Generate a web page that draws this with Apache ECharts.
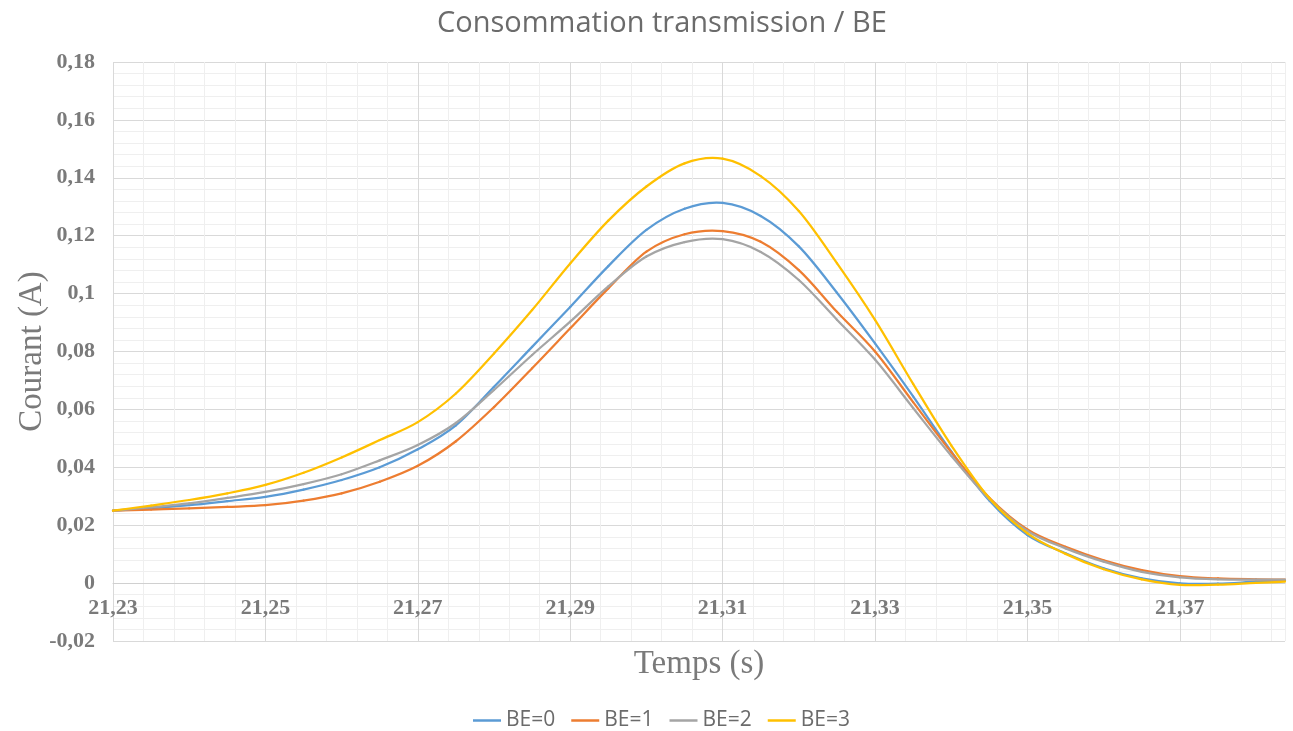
<!DOCTYPE html>
<html>
<head>
<meta charset="utf-8">
<script src="https://cdn.jsdelivr.net/npm/echarts@6/dist/echarts.min.js"></script>
<style>
html,body{margin:0;padding:0;background:#fff;}
#chart{width:1293px;height:731px;}
</style>
</head>
<body>
<div id="chart"></div>
<script>
// Time samples (s)
const times = [21.23, 21.235, 21.24, 21.245, 21.25, 21.255, 21.26, 21.265, 21.27, 21.275,
  21.28, 21.285, 21.29, 21.295, 21.30, 21.305, 21.31, 21.315, 21.32, 21.325,
  21.33, 21.335, 21.34, 21.345, 21.35, 21.355, 21.36, 21.365, 21.37, 21.375, 21.38, 21.3838];
// Current (A)
const be0 = [0.025, 0.0259, 0.0269, 0.0283, 0.0298, 0.0323, 0.0356, 0.0400, 0.0462, 0.0545,
  0.0678, 0.0816, 0.0954, 0.1095, 0.1220, 0.1293, 0.1313, 0.1268, 0.1163, 0.1003,
  0.0828, 0.0645, 0.0455, 0.0285, 0.0166, 0.0103, 0.0051, 0.0016, -0.0001, -0.0002, 0.0005, 0.0009];
const be1 = [0.025, 0.0254, 0.0258, 0.0263, 0.0269, 0.0285, 0.0310, 0.0350, 0.0405, 0.0490,
  0.0608, 0.0742, 0.0880, 0.1018, 0.1145, 0.1205, 0.1216, 0.1179, 0.1081, 0.0937,
  0.0800, 0.0625, 0.0452, 0.0295, 0.0185, 0.0125, 0.0079, 0.0045, 0.0024, 0.0016, 0.0013, 0.0012];
const be2 = [0.025, 0.0262, 0.0275, 0.0294, 0.0315, 0.0342, 0.0376, 0.0424, 0.0477, 0.0553,
  0.0667, 0.0788, 0.0903, 0.1025, 0.1128, 0.1178, 0.1188, 0.1144, 0.1047, 0.0910,
  0.0772, 0.0605, 0.0440, 0.0290, 0.0180, 0.0120, 0.0074, 0.0039, 0.0020, 0.0013, 0.0012, 0.0012];
const be3 = [0.025, 0.0268, 0.0287, 0.0310, 0.0339, 0.0381, 0.0434, 0.0494, 0.0556, 0.0655,
  0.0793, 0.0943, 0.1104, 0.1252, 0.1370, 0.1450, 0.1466, 0.1406, 0.1285, 0.1105,
  0.0909, 0.0688, 0.0476, 0.0293, 0.0172, 0.0101, 0.0048, 0.0013, -0.0006, -0.0005, 0.0001, 0.0005];
const seriesNames = ['BE=0', 'BE=1', 'BE=2', 'BE=3'];
const colors = ['#5B9BD5', '#ED7D31', '#A5A5A5', '#FFC000'];

const X0 = 21.23;     // axis origin (s)
const XMAX = 21.3838; // right edge of the plot (s)
const YMIN = -0.02, YMAX = 0.18, YSTEP = 0.02;
const toMs = t => Math.round((t - X0) * 100000) / 100; // offset in ms

const GRID = { left: 113, right: 8, top: 62, bottom: 90 };
const plotH = 731 - GRID.top - GRID.bottom;
const zeroOffset = -plotH * (0 - YMIN) / (YMAX - YMIN); // x axis drawn at y = 0

const allSeries = [be0, be1, be2, be3];
const chart = echarts.init(document.getElementById('chart'));
const labelColor = '#7a7a7a';
const majorGrid = '#d9d9d9';
const minorGrid = '#efefef';

// Smooth curve (cubic Hermite / Catmull-Rom, parametrised by x) through the
// data points, placed with the chart's own coordinate system (api.coord).
function makeRenderItem(vals, color) {
  return function (params, api) {
    if (params.dataIndex !== 0) return null;
    const xs = times.map(toMs);
    const P = xs.map((x, j) => api.coord([x, vals[j]]));
    const n = P.length;
    const tan = P.map((p, j) => {
      const a = j === 0 ? 0 : j - 1;
      const b = j === n - 1 ? n - 1 : j + 1;
      const dt = xs[b] - xs[a];
      return [(P[b][0] - P[a][0]) / dt, (P[b][1] - P[a][1]) / dt];
    });
    const children = [];
    for (let j = 0; j < n - 1; j++) {
      const h = (xs[j + 1] - xs[j]) / 3;
      children.push({
        type: 'bezierCurve',
        shape: {
          x1: P[j][0], y1: P[j][1],
          cpx1: P[j][0] + tan[j][0] * h, cpy1: P[j][1] + tan[j][1] * h,
          cpx2: P[j + 1][0] - tan[j + 1][0] * h, cpy2: P[j + 1][1] - tan[j + 1][1] * h,
          x2: P[j + 1][0], y2: P[j + 1][1]
        },
        style: { stroke: color, fill: null, lineWidth: 2.25, lineCap: 'round' },
        silent: true
      });
    }
    return { type: 'group', children: children };
  };
}

chart.setOption({
  animation: false,
  color: colors,
  title: {
    text: 'Consommation transmission / BE',
    left: 432,
    top: 4,
    textStyle: { fontFamily: 'Open Sans', fontSize: 29, fontWeight: 'normal', color: '#6b6b6b' }
  },
  legend: {
    data: seriesNames,
    top: 705,
    left: 468,
    icon: 'rect',
    itemWidth: 28,
    itemHeight: 2.5,
    itemGap: 16,
    textStyle: { fontFamily: 'Open Sans', fontSize: 21, color: '#6b6b6b' }
  },
  grid: Object.assign({ containLabel: false, outerBoundsMode: 'none' }, GRID),
  xAxis: {
    type: 'value',
    min: 0,
    max: toMs(XMAX),
    interval: 4,
    offset: zeroOffset,
    name: 'Temps (s)',
    nameLocation: 'middle',
    nameGap: 65,
    nameMoveOverlap: false,
    nameTextStyle: { fontFamily: 'Liberation Serif', fontSize: 33, color: labelColor },
    axisLine: { show: true, onZero: false, lineStyle: { color: '#d0d0d0', width: 1 } },
    axisTick: { show: false },
    axisLabel: {
      margin: 14,
      fontFamily: 'Liberation Serif', fontWeight: 'bold', fontSize: 22, color: labelColor,
      showMaxLabel: false,
      formatter: v => {
        const k = Math.round(v);
        if (Math.abs(v - k) > 1e-6 || k % 20 !== 0) return '';
        return (X0 + k / 1000).toFixed(2).replace('.', ',');
      }
    },
    splitLine: { show: true, lineStyle: { color: [majorGrid, minorGrid, minorGrid, minorGrid, minorGrid], width: 1 } }
  },
  yAxis: {
    type: 'value',
    min: YMIN,
    max: YMAX,
    interval: YSTEP,
    name: 'Courant (A)',
    nameLocation: 'middle',
    nameGap: 64,
    nameMoveOverlap: false,
    nameTextStyle: { fontFamily: 'Liberation Serif', fontSize: 33, color: labelColor },
    axisLine: { show: false },
    axisTick: { show: false },
    axisLabel: {
      margin: 18,
      fontFamily: 'Liberation Serif', fontWeight: 'bold', fontSize: 22, color: labelColor,
      formatter: v => String(Math.round(v * 1000) / 1000).replace('.', ',')
    },
    splitLine: { show: true, lineStyle: { color: majorGrid, width: 1 } },
    minorTick: { show: false, splitNumber: 5 },
    minorSplitLine: { show: true, lineStyle: { color: minorGrid, width: 1 } }
  },
  series: allSeries.map((vals, i) => ({
    name: seriesNames[i],
    type: 'custom',
    coordinateSystem: 'cartesian2d',
    itemStyle: { color: colors[i] },
    encode: { x: 0, y: 1 },
    renderItem: makeRenderItem(vals, colors[i]),
    data: times.map((t, j) => [toMs(t), vals[j]])
  }))
});
</script>
</body>
</html>
